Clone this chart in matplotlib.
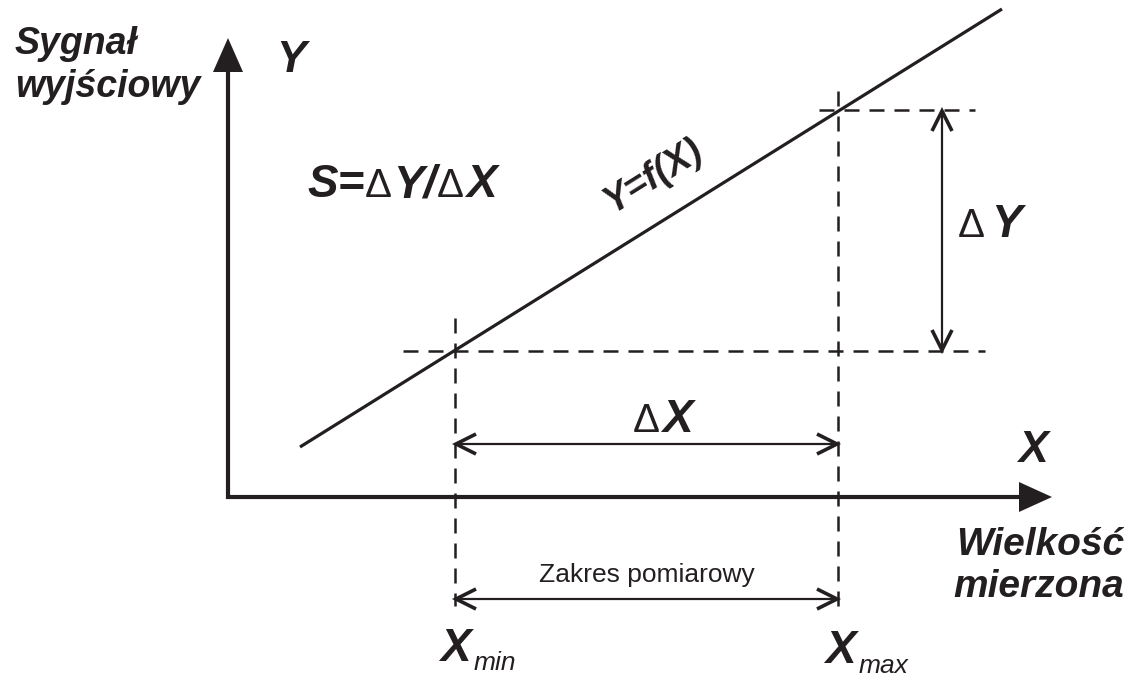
import matplotlib
matplotlib.use("Agg")
import matplotlib.pyplot as plt

# --- dane diagramu (wspolrzedne w pikselach obrazu, y w dol) ---
line_x = [300, 1002]          # prosta Y=f(X)
line_y = [447, 9]
x_min, x_max = 455, 838       # zakres pomiarowy
y_low, y_high = 351, 110      # odpowiadajace wartosci Y
axis_origin = (228, 497)
axis_x_end = 1052
axis_y_end = 38

ink = '#231f20'
bi = dict(family='Liberation Sans', weight='bold', style='italic', color=ink)
reg = dict(family='Liberation Sans', color=ink)

fig = plt.figure(figsize=(11.28, 6.8), dpi=100)
ax = fig.add_axes([0, 0, 1, 1])
ax.set_xlim(0, 1128)
ax.set_ylim(680, 0)
ax.axis('off')
renderer = fig.canvas.get_renderer()


def chain(x, y, pieces):
    # kolejne fragmenty tekstu jeden za drugim (na tej samej linii bazowej)
    for s, size, style, gap in pieces:
        t = ax.text(x, y, s, fontsize=size, va='baseline', **style)
        bb = t.get_window_extent(renderer=renderer)
        x = x + bb.width + gap


def dim_arrow(p0, p1, hl=20, hw=10):
    # strzalka wymiarowa z otwartymi grotami na obu koncach
    (x0, y0), (x1, y1) = p0, p1
    ax.plot([x0, x1], [y0, y1], color=ink, lw=1.6, solid_capstyle='butt')
    for (ax_, ay), (bx, by) in (((x0, y0), (x1, y1)), ((x1, y1), (x0, y0))):
        dx, dy = bx - ax_, by - ay
        n = (dx ** 2 + dy ** 2) ** 0.5
        ux, uy = dx / n, dy / n
        ax.plot([ax_ + ux * hl - uy * hw, ax_, ax_ + ux * hl + uy * hw],
                [ay + uy * hl + ux * hw, ay, ay + uy * hl - ux * hw],
                color=ink, lw=2.6, solid_joinstyle='miter', solid_capstyle='butt')


# osie ze strzalkami
ox, oy = axis_origin
ax.plot([ox - 2, axis_x_end - 30], [oy, oy], color=ink, lw=3.0, solid_capstyle='butt')
ax.plot([ox, ox], [oy + 2, axis_y_end + 30], color=ink, lw=3.0, solid_capstyle='butt')
ax.fill([axis_x_end, axis_x_end - 33, axis_x_end - 33], [oy, oy - 15, oy + 15], color=ink, lw=0)
ax.fill([ox, ox - 15, ox + 15], [axis_y_end, axis_y_end + 34, axis_y_end + 34], color=ink, lw=0)

# charakterystyka
ax.plot(line_x, line_y, color=ink, lw=2.3, solid_capstyle='butt')

# linie przerywane
dash = dict(color=ink, lw=1.8, linestyle=(0, (6, 4)))
ax.plot([x_min, x_min], [318, 606], **dash)
ax.plot([x_max, x_max], [91, 606], **dash)
ax.plot([403, 985], [y_low, y_low], **dash)
ax.plot([819, 975], [y_high, y_high], **dash)

# strzalki wymiarowe
dim_arrow((x_min + 1, 444), (x_max - 1, 444))
dim_arrow((x_min + 1, 599), (x_max - 1, 599))
dim_arrow((942, y_high + 1), (942, y_low - 1))

# opisy
ax.text(15, 54, 'Sygnał', fontsize=27, va='baseline', **bi)
ax.text(15, 97, 'wyjściowy', fontsize=27, va='baseline', **bi)
ax.text(276, 72, 'Y', fontsize=32, va='baseline', **bi)

chain(307, 197, [('S=', 33, bi, 0), ('Δ', 29, reg, 2), ('Y/', 33, bi, 0),
                 ('Δ', 29, reg, 2), ('X', 33, bi, 0)])

ax.text(654, 176, 'Y=f(X)', fontsize=27, rotation=32, ha='center', va='center',
        rotation_mode='anchor', **bi)

chain(958, 237, [('Δ', 29, reg, 6), ('Y', 33, bi, 0)])
chain(633, 432, [('Δ', 29, reg, 2), ('X', 33, bi, 0)])

ax.text(1018, 462, 'X', fontsize=32, va='baseline', **bi)
ax.text(1124, 555, 'Wielkość', fontsize=28, ha='right', va='baseline', **bi)
ax.text(1124, 597, 'mierzona', fontsize=28, ha='right', va='baseline', **bi)

ax.text((x_min + x_max) / 2, 582, 'Zakres pomiarowy', fontsize=19, ha='center',
        va='baseline', **reg)

sub = dict(family='Liberation Sans', style='italic', color=ink)
ax.text(440, 661, 'X', fontsize=33, va='baseline', **bi)
ax.text(474, 670, 'min', fontsize=19, va='baseline', **sub)
ax.text(825, 663, 'X', fontsize=33, va='baseline', **bi)
ax.text(859, 673, 'max', fontsize=19, va='baseline', **sub)

fig.savefig('out.png', dpi=100)
